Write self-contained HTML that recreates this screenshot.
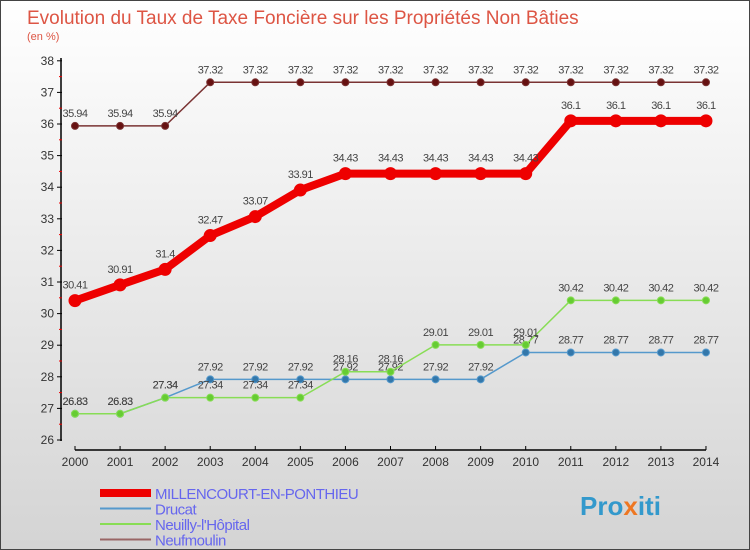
<!DOCTYPE html>
<html><head><meta charset="utf-8"><style>
body{margin:0;width:750px;height:550px;overflow:hidden;font-family:"Liberation Sans",sans-serif}
#wrap{position:absolute;left:0;top:0;width:748px;height:548px;border:1px solid #444;background:linear-gradient(#ffffff,#d4d4d4)}
</style></head><body>
<div id="wrap">
<svg id="chart" width="750" height="550" style="position:absolute;left:-1px;top:-1px">
<text x="27" y="24" font-size="19" fill="#dd5544">Evolution du Taux de Taxe Foncière sur les Propriétés Non Bâties</text>
<text x="27" y="40" font-size="11" fill="#dd5544">(en %)</text>
<g id="axes"></g><g id="series"></g><g id="legend"></g>
<text x="580" y="515" font-size="26" font-weight="bold" fill="#3399cc">Pro<tspan fill="#ee7722">x</tspan>iti</text>
</svg></div>
<script>
const years=[2000,2001,2002,2003,2004,2005,2006,2007,2008,2009,2010,2011,2012,2013,2014];
const yTicks=[26,27,28,29,30,31,32,33,34,35,36,37,38];
const millencourt=[30.41,30.91,31.4,32.47,33.07,33.91,34.43,34.43,34.43,34.43,34.43,36.1,36.1,36.1,36.1];
const drucat=[26.83,26.83,27.34,27.92,27.92,27.92,27.92,27.92,27.92,27.92,28.77,28.77,28.77,28.77,28.77];
const neuilly=[26.83,26.83,27.34,27.34,27.34,27.34,28.16,28.16,29.01,29.01,29.01,30.42,30.42,30.42,30.42];
const neufmoulin=[35.94,35.94,35.94,37.32,37.32,37.32,37.32,37.32,37.32,37.32,37.32,37.32,37.32,37.32,37.32];
const ns="http://www.w3.org/2000/svg";
const X=i=>75+i*45.07, Y=v=>440-(v-26)*31.6;
function mk(t,a,p){const e=document.createElementNS(ns,t);for(const k in a)e.setAttribute(k,a[k]);p.appendChild(e);return e;}
const axes=document.getElementById('axes');
let e=mk('line',{x1:61,y1:58,x2:61,y2:441,stroke:'#000','stroke-width':1.5},axes);

e=mk('line',{x1:75,y1:450,x2:706,y2:450,stroke:'#000','stroke-width':1.5},axes);

yTicks.forEach(v=>{mk('line',{x1:57,x2:62,y1:Y(v),y2:Y(v),stroke:'#000'},axes);
 if(v<38)mk('line',{x1:59,x2:62,y1:Y(v+0.5),y2:Y(v+0.5),stroke:'#e00'},axes);
 const t=mk('text',{x:54,y:Y(v)+4,'font-size':12,'text-anchor':'end',fill:'#333'},axes);t.textContent=v;
 });
years.forEach((y,i)=>{mk('line',{x1:X(i),x2:X(i),y1:446,y2:450,stroke:'#000'},axes);
 const t=mk('text',{x:X(i),y:466,'font-size':12,'text-anchor':'middle',fill:'#333'},axes);t.textContent=y;
 });
const S=document.getElementById('series');
function draw(vals,color,w,r,name,dot,lblDy){
 const g=mk('g',{},S);
 mk('polyline',{points:vals.map((v,i)=>X(i)+','+Y(v)).join(' '),fill:'none',stroke:color,'stroke-width':w,'stroke-linejoin':'round'},g);
 vals.forEach((v,i)=>{const c=mk('circle',{cx:X(i),cy:Y(v),r:r,fill:dot,stroke:color,'stroke-width':1},g);
  
  const t=mk('text',{x:X(i),y:Y(v)+lblDy,'font-size':11,'text-anchor':'middle',fill:'#444','letter-spacing':'-0.5'},g);t.textContent=v;
  });
}
draw(neufmoulin,'#7a3333',1.5,3.5,'neufmoulin-series','#661111',-9);
draw(drucat,'#5599cc',1.5,3.5,'drucat-series','#3377aa',-9);
draw(neuilly,'#88dd55',1.5,3.5,'neuilly-series','#66cc33',-9);
draw(millencourt,'#ee0000',8,6,'millencourt-series','#ee0000',-12);
const L=document.getElementById('legend');
[['MILLENCOURT-EN-PONTHIEU','#ee0000',8],['Drucat','#5599cc',2],['Neuilly-l\'Hôpital','#88dd55',2],['Neufmoulin','#996666',2]].forEach((d,i)=>{
 const g=mk('g',{},L);
 const y=493+i*15.5;
 mk('line',{x1:100,x2:151,y1:y,y2:y,stroke:d[1],'stroke-width':d[2]},g);
 const t=mk('text',{x:155,y:y+6,'font-size':15,fill:'#6666ee','letter-spacing':'-0.5'},g);t.textContent=d[0];
});
</script></body></html>
